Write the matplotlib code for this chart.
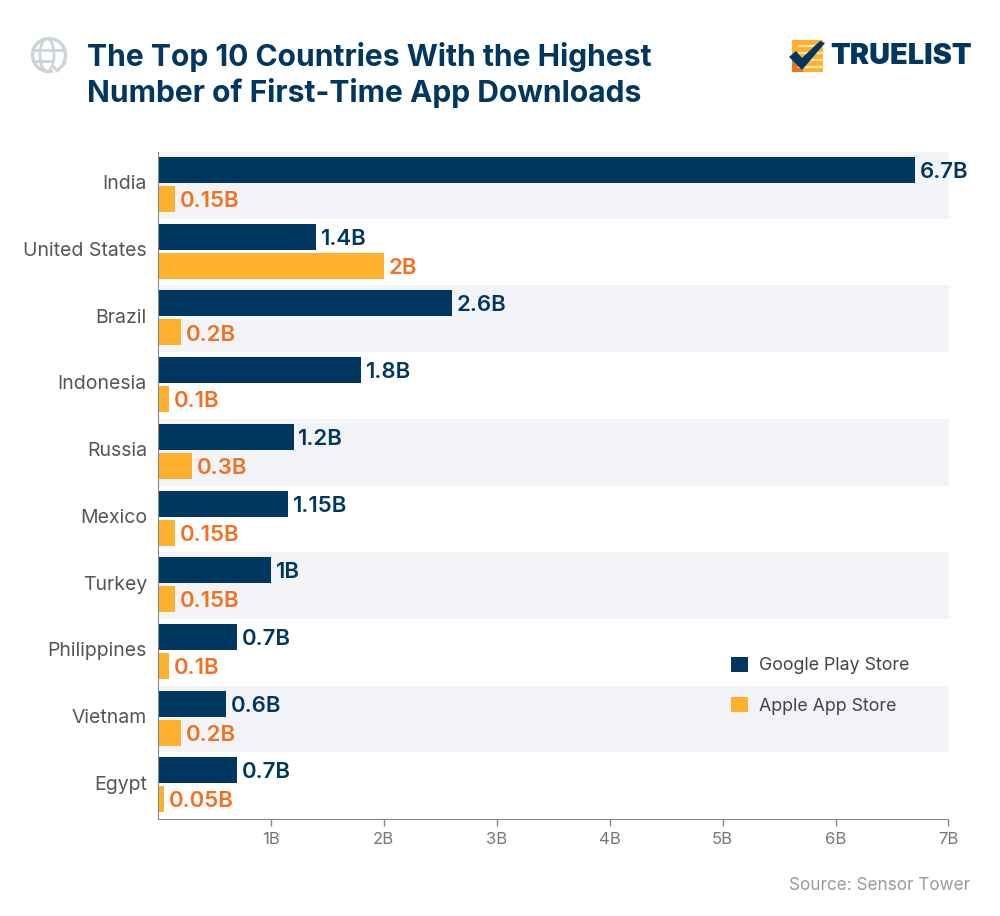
import numpy as np
import matplotlib
matplotlib.use('Agg')
import matplotlib.pyplot as plt
from matplotlib.patches import Circle, Rectangle, Polygon, Arc
from matplotlib.transforms import ScaledTranslation

countries = ['India', 'United States', 'Brazil', 'Indonesia', 'Russia',
             'Mexico', 'Turkey', 'Philippines', 'Vietnam', 'Egypt']
google = [6.7, 1.4, 2.6, 1.8, 1.2, 1.15, 1, 0.7, 0.6, 0.7]
apple = [0.15, 2, 0.2, 0.1, 0.3, 0.15, 0.15, 0.1, 0.2, 0.05]
google_labels = ['6.7B', '1.4B', '2.6B', '1.8B', '1.2B', '1.15B', '1B', '0.7B', '0.6B', '0.7B']
apple_labels = ['0.15B', '2B', '0.2B', '0.1B', '0.3B', '0.15B', '0.15B', '0.1B', '0.2B', '0.05B']
xticks = [1, 2, 3, 4, 5, 6, 7]
xtick_labels = ['1B', '2B', '3B', '4B', '5B', '6B', '7B']

navy = '#003760'
orange = '#ffb02e'
orange_text = '#f37021'

plt.rcParams['font.family'] = ['Inter', 'DejaVu Sans']

fig = plt.figure(figsize=(10, 9.16), dpi=100)

# pixel overlay for title, icon, logo
bg = fig.add_axes([0, 0, 1, 1])
bg.set_xlim(0, 1000)
bg.set_ylim(916, 0)
bg.axis('off')

ax = fig.add_axes([158 / 1000, 1 - 819 / 916, 790.5 / 1000, 667 / 916])
ax.patch.set_alpha(0)
ax.set_xlim(0, 7)
ax.set_ylim(10, 0)

y = np.arange(len(countries))
for i in y[::2]:
    ax.axhspan(i, i + 1, color='#f2f4f7', lw=0, zorder=0)

ax.barh(y + 0.27, google, height=0.39, color=navy, label='Google Play Store', zorder=2)
ax.barh(y + 0.705, apple, height=0.39, color=orange, label='Apple App Store', zorder=2)

for i in y:
    ax.annotate(google_labels[i], (google[i], i + 0.27), xytext=(3.5, -1.5), textcoords='offset points',
                va='center', ha='left', color=navy, fontsize=16, fontweight='semibold')
    ax.annotate(apple_labels[i], (apple[i], i + 0.705), xytext=(3.5, -1.5), textcoords='offset points',
                va='center', ha='left', color=orange_text, fontsize=16, fontweight='semibold')

ax.set_yticks(y + 0.5)
ax.set_yticklabels(countries, fontsize=14, color='#555555')
ax.tick_params(axis='y', length=0, pad=8)
shift = ScaledTranslation(0, 3 / 100, fig.dpi_scale_trans)
for lab in ax.get_yticklabels():
    lab.set_transform(lab.get_transform() + shift)
ax.set_xticks(xticks)
ax.set_xticklabels(xtick_labels, fontsize=12, color='#777777')
ax.tick_params(axis='x', length=5, color='#888888', width=1, pad=4)
for s in ['top', 'right']:
    ax.spines[s].set_visible(False)
ax.spines['left'].set_color('#888888')
ax.spines['bottom'].set_color('#888888')

leg = ax.legend(loc='upper left', bbox_to_anchor=(0.705, 0.2675), frameon=False, fontsize=12.8,
                handlelength=0.95, handleheight=0.95, handletextpad=0.6, labelspacing=1.28,
                labelcolor='#444444')

bg.text(87, 57, 'The Top 10 Countries With the Highest', fontsize=21.6, fontweight='bold',
        color=navy, va='center', ha='left')
bg.text(87, 93, 'Number of First-Time App Downloads', fontsize=21.6, fontweight='bold',
        color=navy, va='center', ha='left')
bg.text(970, 885, 'Source: Sensor Tower', fontsize=12.3, color='#9a9a9a', va='center', ha='right')

# globe icon
icon = '#cdd5da'
bg.add_patch(Circle((49, 55), 16.5, fill=False, ec=icon, lw=2.4))
bg.add_patch(Arc((47, 55), 14, 33, fill=False, ec=icon, lw=2))
bg.plot([33, 65], [50, 50], color=icon, lw=2)
bg.plot([33, 50], [61, 61], color=icon, lw=2)
bg.add_patch(Circle((58, 68), 6, color='white', lw=0, zorder=3))
bg.plot([53, 57, 65], [66, 71, 63], color=icon, lw=2.2, zorder=4)

# logo
bg.add_patch(Rectangle((792, 40), 31, 32, color=orange, lw=0))
bg.add_patch(Polygon([(792, 60), (804, 72), (792, 72)], closed=True, color='#f37021', lw=0))
for ly in [46, 53, 60, 67]:
    bg.plot([799, 823], [ly, ly], color='#ffe3ad', lw=1.6)
bg.add_patch(Polygon([(789, 57), (796, 51), (802, 58), (820, 41), (825, 43), (802, 70)],
                     closed=True, color=navy, lw=0, zorder=3))
bg.text(830, 56, 'TRUELIST', fontsize=20.8, fontweight='black', color=navy, va='center', ha='left')

fig.savefig('out.png', dpi=100)
